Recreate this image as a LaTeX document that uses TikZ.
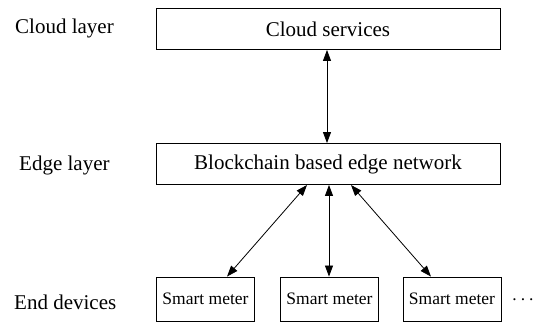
\documentclass[tikz,border=0pt]{standalone}
\usepackage{fontspec}
\setmainfont{Liberation Serif}
\usetikzlibrary{arrows.meta}
\begin{document}
\begin{tikzpicture}[x=1pt,y=-1pt,
  box/.style={draw, line width=0.9pt, inner sep=0pt},
  bigbox/.style={box, minimum width=344pt, minimum height=41pt, font=\fontsize{21}{24}\selectfont},
  meter/.style={box, minimum width=98pt, minimum height=44pt, font=\fontsize{17.5}{20}\selectfont},
  layer/.style={anchor=west, inner sep=0pt, font=\fontsize{21}{24}\selectfont},
  link/.style={line width=0.8pt, {Triangle[length=11pt,width=8pt]}-{Triangle[length=11pt,width=8pt]}}]
\useasboundingbox (0,0) rectangle (542,322);
% layer captions
\node[layer] (lc) at (15,28) {Cloud layer};
\node[layer] (le) at (19,165) {Edge layer};
\node[layer] (ld) at (14,302) {End devices};
% cloud and edge boxes
\node[bigbox] (cloud) at (328,29) {Cloud services};
\node[bigbox] (edge) at (328,164) {Blockchain based edge network};
% end devices
\node[meter] (m1) at (205.5,299) {Smart meter};
\node[meter] (m2) at (329.5,299) {Smart meter};
\node[meter] (m3) at (452,299) {Smart meter};
\node[inner sep=0pt, font=\fontsize{17.5}{20}\selectfont] (dots) at (523,300) {.\hspace{4pt}.\hspace{4pt}.};
% connectors
\coordinate (eb1) at (307,185);
\coordinate (eb3) at (351,185);
\draw[link] (cloud.south -| 327,0) -- (edge.north -| 327,0);
\draw[link] (eb1) -- (m1.north -| 227,0);
\draw[link] (edge.south -| 329,0) -- (m2.north -| 329,0);
\draw[link] (eb3) -- (m3.north -| 431,0);
\end{tikzpicture}
\end{document}
